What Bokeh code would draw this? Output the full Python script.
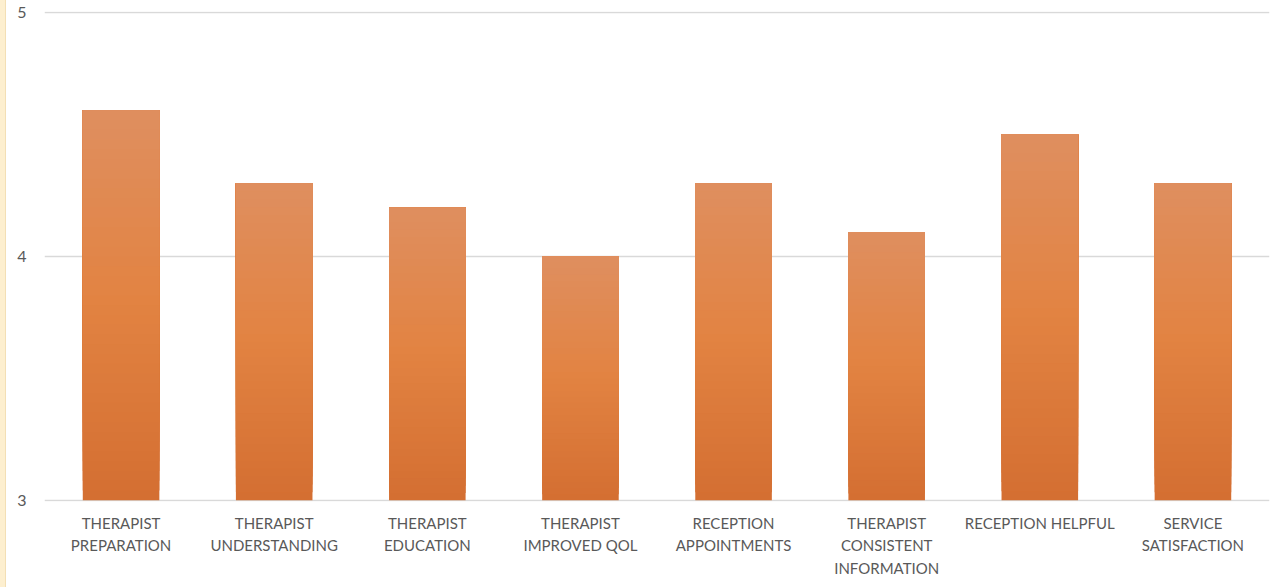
from bokeh.plotting import figure
from bokeh.models import Div, ColumnDataSource, FixedTicker
from bokeh.layouts import row
from bokeh.embed import file_html
from bokeh.resources import INLINE

categories = ["THERAPIST\nPREPARATION", "THERAPIST\nUNDERSTANDING", "THERAPIST\nEDUCATION",
              "THERAPIST\nIMPROVED QOL", "RECEPTION\nAPPOINTMENTS", "THERAPIST\nCONSISTENT\nINFORMATION",
              "RECEPTION HELPFUL", "SERVICE\nSATISFACTION"]
values = [4.6, 4.3, 4.2, 4.0, 4.3, 4.1, 4.5, 4.3]
y_ticks = [3, 4, 5]

BASE = 3.0
stops = [(0.0, (0xD4, 0x6F, 0x32)), (0.5, (0xE2, 0x83, 0x42)), (1.0, (0xDF, 0x8F, 0x60))]

def grad(t):
    for (t0, c0), (t1, c1) in zip(stops[:-1], stops[1:]):
        if t0 <= t <= t1:
            f = (t - t0) / (t1 - t0)
            c = tuple(int(round(a + (b - a) * f)) for a, b in zip(c0, c1))
            return "#%02x%02x%02x" % c
    return "#%02x%02x%02x" % stops[-1][1]

p = figure(x_range=categories, y_range=(2.995, 5.005), width=1266, height=587,
           output_backend="svg", toolbar_location=None,
           min_border_left=38, min_border_right=3, min_border_top=11, min_border_bottom=86)

N = 40
xs, bots, tops, cols = [], [], [], []
for cat, v in zip(categories, values):
    for i in range(N):
        t = i / N
        xs.append(cat)
        bots.append(BASE + (v - BASE) * t)
        tops.append(v)
        cols.append(grad(t))
src = ColumnDataSource(dict(x=xs, bottom=bots, top=tops, color=cols))
p.vbar(x="x", bottom="bottom", top="top", width=0.5, source=src,
       fill_color="color", line_color=None)

p.outline_line_color = None
p.background_fill_color = "white"
p.border_fill_color = "white"
p.xgrid.grid_line_color = None
p.ygrid.grid_line_color = "#D9D9D9"
p.ygrid.grid_line_width = 1.3
p.ygrid.level = "underlay"
p.yaxis.ticker = FixedTicker(ticks=y_ticks)
for ax in (p.xaxis[0], p.yaxis[0]):
    ax.axis_line_color = None
    ax.major_tick_line_color = None
    ax.minor_tick_line_color = None
    ax.major_tick_in = 0
    ax.major_tick_out = 0
    ax.major_label_text_font = "Lato"
    ax.major_label_text_color = "#595959"
p.xaxis.major_label_text_font_size = "15px"
p.yaxis.major_label_text_font_size = "16px"
p.yaxis.major_label_standoff = 18
p.xaxis.major_label_standoff = 12
p.xaxis.major_label_text_line_height = 1.25

strip = Div(width=6, height=587, margin=0,
            styles={"background-color": "#FDEFCF", "border-right": "1px solid #F3DFB5",
                    "box-sizing": "border-box"})
layout = row(strip, p, spacing=0)
open("out.html", "w").write(file_html(layout, INLINE))
